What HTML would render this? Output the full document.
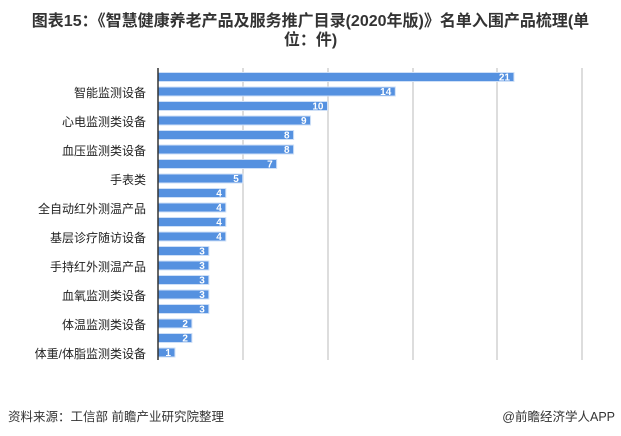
<!DOCTYPE html>
<html><head><meta charset="utf-8"><style>
body{margin:0;width:621px;height:436px;background:#fff;font-family:"Liberation Sans","Noto Sans CJK SC",sans-serif;position:relative;overflow:hidden}
.t{position:absolute;left:0;width:621px;text-align:center;font-weight:bold;font-size:16px;color:#333;line-height:19px}
.f{position:absolute;top:406px;font-size:12.5px;color:#333}
</style></head><body>
<div class="t" style="top:12px">图表15：《智慧健康养老产品及服务推广目录(2020年版)》名单入围产品梳理(单</div>
<div class="t" style="top:31px">位：件)</div>
<svg width="621" height="436" style="position:absolute;left:0;top:0">
<g stroke="#bbb" stroke-width="1">
<line x1="243" y1="68" x2="243" y2="360"/><line x1="328" y1="68" x2="328" y2="360"/>
<line x1="413" y1="68" x2="413" y2="360"/><line x1="497" y1="68" x2="497" y2="360"/>
<line x1="582" y1="68" x2="582" y2="360"/></g>
<g id="bars"></g>
<line x1="158" y1="68" x2="158" y2="360" stroke="#333" stroke-width="1.5"/>
</svg>
<div class="f" style="left:8px">资料来源：工信部 前瞻产业研究院整理</div>
<div class="f" style="right:6px">@前瞻经济学人APP</div>
<script>
var v=[21,14,10,9,8,8,7,5,4,4,4,4,3,3,3,3,3,2,2,1];
var L={1:"智能监测设备",3:"心电监测类设备",5:"血压监测类设备",7:"手表类",9:"全自动红外测温产品",11:"基层诊疗随访设备",13:"手持红外测温产品",15:"血氧监测类设备",17:"体温监测类设备",19:"体重/体脂监测类设备"};
var s="";
v.forEach(function(d,i){var y=72.5+i*14.5,w=d*16.95;
s+='<rect x="158" y="'+y+'" width="'+w+'" height="9" fill="#5591e0" stroke="#cfe0f7" stroke-width="1"/>';
s+='<text x="'+(158+w-4)+'" y="'+(y+8)+'" font-size="10" font-weight="bold" fill="#fff" text-anchor="end" font-family="Liberation Sans">'+d+'</text>';
if(L[i])s+='<text x="146" y="'+(y+10)+'" font-size="12" fill="#222" text-anchor="end" font-family="Liberation Sans,Noto Sans CJK SC,sans-serif">'+L[i]+'</text>';});
document.getElementById("bars").innerHTML=s;
</script>
</body></html>
